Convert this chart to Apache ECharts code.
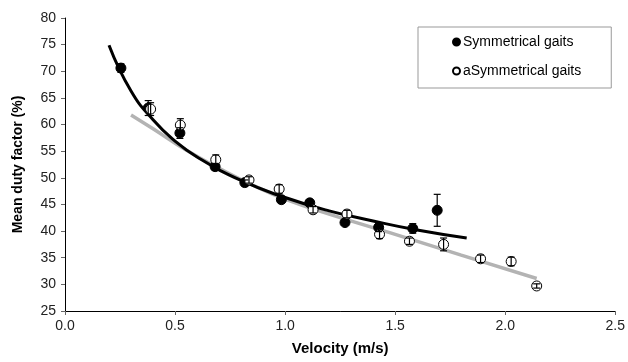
<!DOCTYPE html>
<html>
<head>
<meta charset="utf-8">
<script src="https://cdn.jsdelivr.net/npm/echarts@6/dist/echarts.min.js"></script>
<style>
  html, body { margin: 0; padding: 0; background: #fff; }
  #chart { width: 628px; height: 362px; }
</style>
</head>
<body>
<div id="chart"></div>
<script>
// 刻度
const xTicks = [0, 0.5, 1.0, 1.5, 2.0, 2.5];
const yTicks = [25, 30, 35, 40, 45, 50, 55, 60, 65, 70, 75, 80];

// 对称步态：速度、占空因子、误差
const symVel = [0.254, 0.378, 0.522, 0.682, 0.817, 0.983, 1.112, 1.272, 1.425, 1.580, 1.691];
const symDuty = [70.6, 63.1, 58.4, 52.1, 49.1, 45.9, 45.3, 41.6, 40.7, 40.5, 43.9];
const symErr = [0.8, 1.4, 1.0, 0.6, 0.5, 0.5, 0.5, 0.5, 0.8, 0.9, 3.0];

// 非对称步态
const asymVel = [0.389, 0.524, 0.685, 0.836, 0.973, 1.127, 1.281, 1.429, 1.565, 1.720, 1.888, 2.027, 2.143];
const asymDuty = [62.9, 59.9, 53.4, 49.6, 47.9, 44.0, 43.2, 39.4, 38.1, 37.5, 34.8, 34.3, 29.7];
const asymErr = [1.2, 1.2, 0.9, 0.6, 0.8, 0.6, 0.7, 0.8, 0.6, 1.2, 0.7, 0.8, 0.4];

// 趋势线（从图上读取的点）
const symTrendX = [0.20, 0.30, 0.40, 0.50, 0.60, 0.80, 1.00, 1.20, 1.40, 1.60, 1.825];
const symTrendY = [74.9, 66.3, 60.9, 56.9, 53.9, 49.5, 46.3, 43.8, 41.9, 40.2, 38.7];
const asymTrendX = [0.30, 0.40, 0.55, 0.70, 0.85, 1.00, 1.20, 1.475, 1.80, 2.143];
const asymTrendY = [61.8, 59.2, 55.2, 51.8, 48.7, 46.0, 43.2, 39.7, 35.5, 31.1];

const zip = (xs, ys) => xs.map((x, i) => [x, ys[i]]);

// 误差线：竖线 + 上下横帽
function errorBarItem(params, api) {
  const x = api.value(0);
  const top = api.coord([x, api.value(1) + api.value(2)]);
  const bot = api.coord([x, api.value(1) - api.value(2)]);
  const w = 3.5;
  const style = { stroke: '#000', lineWidth: 1.2 };
  return {
    type: 'group',
    children: [
      { type: 'line', shape: { x1: top[0], y1: top[1], x2: bot[0], y2: bot[1] }, style },
      { type: 'line', shape: { x1: top[0] - w, y1: top[1], x2: top[0] + w, y2: top[1] }, style },
      { type: 'line', shape: { x1: bot[0] - w, y1: bot[1], x2: bot[0] + w, y2: bot[1] }, style }
    ]
  };
}

const chart = echarts.init(document.getElementById('chart'));

const axisLabelStyle = { fontFamily: 'Liberation Sans', fontSize: 14, color: '#222' };
const axisNameStyle = { fontFamily: 'Liberation Sans', fontSize: 14, fontWeight: 'bold', color: '#000' };

chart.setOption({
  animation: false,
  grid: { left: 65, right: 12, top: 18, bottom: 51 },
  legend: {
    orient: 'vertical',
    left: 418,
    top: 27,
    data: [
      { name: 'Symmetrical gaits', icon: 'circle' },
      { name: 'aSymmetrical gaits', icon: 'circle' }
    ],
    itemWidth: 7,
    itemHeight: 7,
    itemGap: 15,
    padding: [8, 30, 10, 34],
    borderColor: '#999',
    borderWidth: 1,
    textStyle: { fontFamily: 'Liberation Sans', fontSize: 14, color: '#000', padding: [0, 0, 0, -2] }
  },
  xAxis: {
    type: 'value',
    min: xTicks[0],
    max: xTicks[xTicks.length - 1],
    interval: 0.5,
    name: 'Velocity (m/s)',
    nameLocation: 'middle',
    nameGap: 30,
    nameTextStyle: { ...axisNameStyle, fontSize: 15 },
    axisLine: { lineStyle: { color: '#000', width: 1 } },
    axisTick: { show: true, length: 4, lineStyle: { color: '#666' } },
    axisLabel: { ...axisLabelStyle, margin: 8, formatter: v => v.toFixed(1) },
    splitLine: { show: false }
  },
  yAxis: {
    type: 'value',
    min: yTicks[0],
    max: yTicks[yTicks.length - 1],
    interval: 5,
    name: 'Mean duty factor (%)',
    nameLocation: 'middle',
    nameGap: 40,
    nameTextStyle: axisNameStyle,
    axisLine: { show: true, lineStyle: { color: '#000', width: 1 } },
    axisTick: { show: true, length: 4, lineStyle: { color: '#666' } },
    axisLabel: { ...axisLabelStyle, margin: 9 },
    splitLine: { show: false }
  },
  series: [
    {
      name: 'asymTrend', type: 'line', data: zip(asymTrendX, asymTrendY),
      smooth: true, showSymbol: false, silent: true, z: 1,
      lineStyle: { color: '#b3b3b3', width: 3.5 }
    },
    {
      name: 'symTrend', type: 'line', data: zip(symTrendX, symTrendY),
      smooth: true, showSymbol: false, silent: true, z: 2,
      lineStyle: { color: '#000', width: 3 }
    },
    {
      name: 'Symmetrical gaits', type: 'scatter', data: zip(symVel, symDuty),
      symbol: 'circle', symbolSize: 10, z: 3,
      itemStyle: { color: '#000', borderColor: '#000', borderWidth: 1, opacity: 1 }
    },
    {
      name: 'aSymmetrical gaits', type: 'scatter', data: zip(asymVel, asymDuty),
      symbol: 'circle', symbolSize: 10, z: 4,
      itemStyle: { color: '#fff', borderColor: '#000', borderWidth: 1, opacity: 1 }
    },
    {
      name: 'symErr', type: 'custom', renderItem: errorBarItem, z: 5,
      data: symVel.map((x, i) => [x, symDuty[i], symErr[i]])
    },
    {
      name: 'asymErr', type: 'custom', renderItem: errorBarItem, z: 5,
      data: asymVel.map((x, i) => [x, asymDuty[i], asymErr[i]])
    }
  ]
});
</script>
</body>
</html>
